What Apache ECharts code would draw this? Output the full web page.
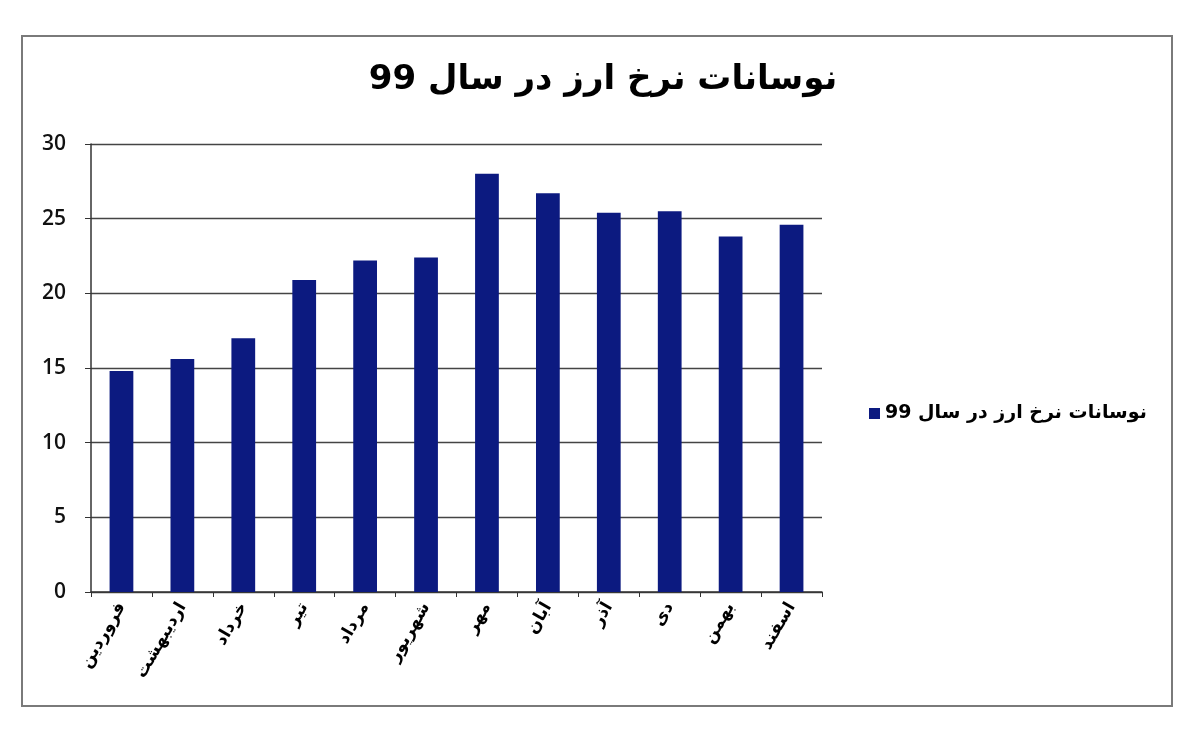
<!DOCTYPE html>
<html>
<head>
<meta charset="utf-8">
<script src="https://cdn.jsdelivr.net/npm/echarts@6/dist/echarts.min.js"></script>
<style>
html,body{margin:0;padding:0;background:#fff;}
#main{width:1200px;height:731px;}
</style>
</head>
<body>
<div id="main"></div>
<script>
const titleText = 'نوسانات نرخ ارز در سال 99';
const seriesName = 'نوسانات نرخ ارز در سال 99';
const months = ['فروردین','اردیبهشت','خرداد','تیر','مرداد','شهریور','مهر','آبان','آذر','دی','بهمن','اسفند'];
const rates = [14.8, 15.6, 17.0, 20.9, 22.2, 22.4, 28.0, 26.7, 25.4, 25.5, 23.8, 24.6];
const yMin = 0, yMax = 30, yStep = 5;

const chart = echarts.init(document.getElementById('main'));
const fontFa = "'DejaVu Sans', 'Noto Sans', sans-serif";
chart.setOption({
  backgroundColor: '#ffffff',
  animation: false,
  graphic: [{
    type: 'rect',
    shape: {x: 22, y: 36, width: 1150, height: 670},
    style: {fill: 'none', stroke: '#7a7a7a', lineWidth: 2},
    silent: true
  }],
  title: {
    text: titleText,
    left: 598, top: 58,
    textAlign: 'center',
    textStyle: {fontFamily: fontFa, fontWeight: 'bold', fontSize: 34, color: '#000'}
  },
  legend: {
    data: [seriesName],
    left: 864, top: 399,
    itemWidth: 11, itemHeight: 11, itemGap: 6,
    icon: 'rect',
    textStyle: {fontFamily: fontFa, fontWeight: 'bold', fontSize: 19, color: '#000'}
  },
  grid: {left: 91, right: 378, top: 144, bottom: 139},
  xAxis: {
    type: 'category',
    data: months,
    boundaryGap: true,
    axisLine: {show: true, lineStyle: {color: '#333', width: 1.5}},
    axisTick: {show: true, length: 5, lineStyle: {color: '#333'}},
    axisLabel: {
      interval: 0, rotate: 60, margin: 12,
      fontFamily: fontFa, fontWeight: 'bold', fontSize: 17, color: '#000'
    }
  },
  yAxis: {
    type: 'value',
    min: yMin, max: yMax, interval: yStep,
    axisLine: {show: true, lineStyle: {color: '#333', width: 1.5}},
    axisTick: {show: true, length: 6, lineStyle: {color: '#333'}},
    splitLine: {show: true, lineStyle: {color: '#444', width: 1.3}},
    axisLabel: {margin: 25, fontFamily: "'Open Sans', 'DejaVu Sans', sans-serif", fontWeight: 600, fontSize: 21, color: '#111'}
  },
  series: [{
    name: seriesName,
    type: 'bar',
    data: rates,
    barWidth: '39%',
    itemStyle: {color: '#0c1a80'}
  }]
});
</script>
</body>
</html>
